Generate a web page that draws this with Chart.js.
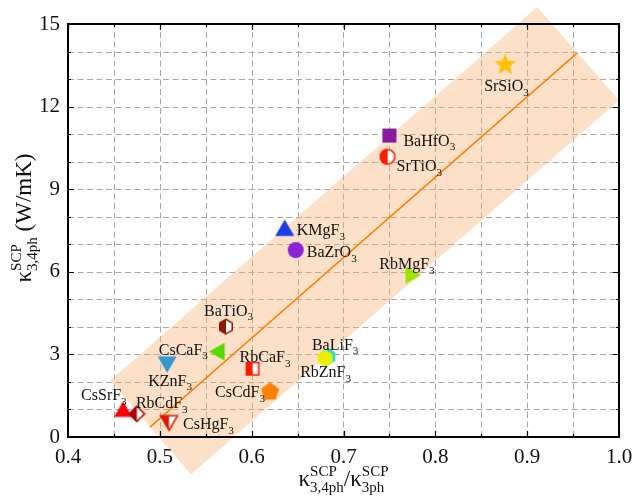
<!DOCTYPE html>
<html>
<head>
<meta charset="utf-8">
<script src="https://cdn.jsdelivr.net/npm/chart.js@4.4.0/dist/chart.umd.min.js"></script>
<style>
  html, body { margin: 0; padding: 0; background: #fff; }
</style>
</head>
<body>
<canvas id="myChart" width="634" height="497"></canvas>
<script>
// compounds and their conductivity values
const names = ['SrSiO3', 'BaHfO3', 'SrTiO3', 'KMgF3', 'BaZrO3', 'RbMgF3', 'BaTiO3', 'CsCaF3',
	'RbCaF3', 'CsCdF3', 'BaLiF3', 'RbZnF3', 'KZnF3', 'CsSrF3', 'RbCdF3', 'CsHgF3'];
const ratio = [0.876, 0.750, 0.748, 0.636, 0.648, 0.776, 0.572, 0.562,
	0.601, 0.620, 0.683, 0.680, 0.508, 0.460, 0.475, 0.510];
const kappa = [13.55, 10.95, 10.18, 7.6, 6.79, 5.88, 4.01, 3.10,
	2.48, 1.64, 2.92, 2.86, 2.63, 1.02, 0.84, 0.51];

// linear fit and its shaded band (corners in data units)
const fitX = [0.4893, 0.9543];
const fitY = [0.36, 13.94];
const bandX = [0.4457, 0.534, 1.0, 0.911];
const bandY = [2.04, -1.35, 12.23, 15.62];

const xMin = 0.4, xMax = 1.0, xStep = 0.05;
const yMin = 0, yMax = 15, yStep = 1;

// marker look for each compound
const shapes = ['star', 'square', 'circle', 'triUp', 'circle', 'triRight', 'hexagon', 'triLeft',
	'square', 'pentagon', 'hexagon', 'hexagon', 'triDown', 'triUp', 'diamond', 'triDown'];
const colors = ['#ffc000', '#8a1a9a', '#ff1a00', '#1a3fe6', '#8a22d6', '#9be600', '#8b1a00', '#55dd00',
	'#ff1a00', '#ff8000', '#1ee0d8', '#e8f000', '#3399cc', '#ff0000', '#b00000', '#e01800'];
const sizes = [23, 14, 16, 22, 16, 21, 16, 21, 14, 19, 17, 17, 22, 21, 17, 21];
const halves = [false, false, true, false, false, false, true, false,
	true, false, false, false, false, false, true, true];
// label offset from the marker: dx, dy (baseline)
const labelPos = [[-21, 27], [14, 10], [9, 14], [12, 7], [11, 7], [-34, -6], [-22, -11], [-58, 3],
	[-13, -7], [-55, 5], [-16, -7], [-25, 19], [-19, 21], [-42, -9], [-1, -6], [14, 6]];

const serif = '"Liberation Serif", "Times New Roman", serif';

function shapePath(g, shape, cx, cy, r) {
	g.beginPath();
	if (shape === 'circle') {
		g.arc(cx, cy, r, 0, Math.PI * 2);
	} else if (shape === 'square') {
		g.rect(cx - r, cy - r, 2 * r, 2 * r);
	} else if (shape === 'star') {
		for (let i = 0; i < 10; i++) {
			const a = -Math.PI / 2 + i * Math.PI / 5;
			const rr = i % 2 === 0 ? r : r * 0.42;
			g.lineTo(cx + rr * Math.cos(a), cy + r * 0.08 + rr * Math.sin(a));
		}
	} else {
		let n, start;
		if (shape === 'triUp') { n = 3; start = -Math.PI / 2; }
		else if (shape === 'triDown') { n = 3; start = Math.PI / 2; }
		else if (shape === 'triLeft') { n = 3; start = Math.PI; }
		else if (shape === 'triRight') { n = 3; start = 0; }
		else if (shape === 'hexagon') { n = 6; start = -Math.PI / 2; }
		else if (shape === 'pentagon') { n = 5; start = -Math.PI / 2; }
		else if (shape === 'diamond') { n = 4; start = -Math.PI / 2; }
		// triangles are centred on their bounding box
		const off = n === 3 ? r * 0.25 : 0;
		for (let i = 0; i < n; i++) {
			const a = start + i * 2 * Math.PI / n;
			g.lineTo(cx + r * Math.cos(a) - off * Math.cos(start), cy + r * Math.sin(a) - off * Math.sin(start));
		}
	}
	g.closePath();
}

// builds a small canvas used as the point style
function makeMarker(shape, color, size, half) {
	const s = size + 4;
	const c = document.createElement('canvas');
	c.width = s; c.height = s;
	const g = c.getContext('2d');
	const r = size / 2;
	shapePath(g, shape, s / 2, s / 2, r);
	if (half) {
		g.fillStyle = '#fff';
		g.fill();
		g.save();
		g.clip();
		g.fillStyle = color;
		g.fillRect(0, 0, s / 2, s);
		g.restore();
		shapePath(g, shape, s / 2, s / 2, r - 0.8);
		g.lineWidth = 1.6;
		g.strokeStyle = color;
		g.stroke();
	} else {
		g.fillStyle = color;
		g.fill();
	}
	return c;
}

const markers = shapes.map((s, i) => makeMarker(s, colors[i], sizes[i], halves[i]));

// text where digits are set as subscripts (chemical formulas)
function drawFormula(ctx, text, x, y, size) {
	let cx = x;
	for (const ch of text) {
		if (/[0-9]/.test(ch)) {
			ctx.font = (size * 0.7) + 'px ' + serif;
			ctx.fillText(ch, cx, y + size * 0.3);
		} else {
			ctx.font = size + 'px ' + serif;
			ctx.fillText(ch, cx, y);
		}
		cx += ctx.measureText(ch).width;
	}
}

// kappa with stacked superscript / subscript
function kappaParts(sub) {
	return [{ t: 'κ', size: 23 }, { sup: 'SCP', sub: sub, size: 15 }];
}

function richWidth(ctx, parts) {
	let w = 0;
	for (const p of parts) {
		ctx.font = p.size + 'px ' + serif;
		if (p.t) w += ctx.measureText(p.t).width;
		else w += Math.max(ctx.measureText(p.sup).width, ctx.measureText(p.sub).width);
	}
	return w;
}

function drawRich(ctx, parts, x, y) {
	let cx = x;
	for (const p of parts) {
		ctx.font = p.size + 'px ' + serif;
		if (p.t) {
			ctx.fillText(p.t, cx, y);
			cx += ctx.measureText(p.t).width;
		} else {
			ctx.fillText(p.sup, cx, y - 10);
			ctx.fillText(p.sub, cx, y + 6);
			cx += Math.max(ctx.measureText(p.sup).width, ctx.measureText(p.sub).width);
		}
	}
}

const decorations = {
	id: 'decorations',
	beforeDatasetsDraw(chart) {
		const ctx = chart.ctx;
		const xs = chart.scales.x, ys = chart.scales.y;
		const a = chart.chartArea;
		ctx.save();
		// dashed grid at every tick
		ctx.strokeStyle = '#a6a6a6';
		ctx.lineWidth = 1;
		ctx.setLineDash([6, 3.5]);
		ctx.beginPath();
		for (const t of xs.ticks) {
			const p = Math.round(xs.getPixelForValue(t.value)) + 0.5;
			ctx.moveTo(p, a.bottom); ctx.lineTo(p, a.top);
		}
		for (const t of ys.ticks) {
			const p = Math.round(ys.getPixelForValue(t.value)) + 0.5;
			ctx.moveTo(a.left, p); ctx.lineTo(a.right, p);
		}
		ctx.stroke();
		ctx.setLineDash([]);

		ctx.beginPath();
		for (let i = 0; i < bandX.length; i++) {
			ctx.lineTo(xs.getPixelForValue(bandX[i]), ys.getPixelForValue(bandY[i]));
		}
		ctx.closePath();
		ctx.fillStyle = 'rgba(250, 178, 118, 0.4)';
		ctx.fill();
		ctx.restore();
	},
	afterDatasetsDraw(chart) {
		const ctx = chart.ctx;
		const xs = chart.scales.x, ys = chart.scales.y;
		const a = chart.chartArea;
		ctx.save();
		ctx.fillStyle = '#111';
		ctx.textBaseline = 'alphabetic';
		ctx.textAlign = 'left';
		for (let i = 0; i < names.length; i++) {
			const px = xs.getPixelForValue(ratio[i]);
			const py = ys.getPixelForValue(kappa[i]);
			drawFormula(ctx, names[i], px + labelPos[i][0], py + labelPos[i][1], 16);
		}

		// frame and inward ticks on all sides
		ctx.strokeStyle = '#000';
		ctx.lineWidth = 1.2;
		ctx.beginPath();
		for (let v = xMin; v <= xMax + 1e-9; v += xStep) {
			const major = Math.round(v * 100) % 10 === 0;
			const len = major ? 6 : 3;
			const p = Math.round(xs.getPixelForValue(v)) + 0.5;
			ctx.moveTo(p, a.bottom); ctx.lineTo(p, a.bottom - len);
			ctx.moveTo(p, a.top); ctx.lineTo(p, a.top + len);
		}
		for (let v = yMin; v <= yMax; v += yStep) {
			const len = v % 3 === 0 ? 6 : 3;
			const p = Math.round(ys.getPixelForValue(v)) + 0.5;
			ctx.moveTo(a.left, p); ctx.lineTo(a.left + len, p);
			ctx.moveTo(a.right, p); ctx.lineTo(a.right - len, p);
		}
		ctx.stroke();
		ctx.lineWidth = 2;
		ctx.strokeRect(a.left, a.top, a.right - a.left, a.bottom - a.top);

		// axis titles
		ctx.fillStyle = '#111';
		const xt = kappaParts('3,4ph').concat([{ t: '/', size: 23 }], kappaParts('3ph'));
		const xw = richWidth(ctx, xt);
		drawRich(ctx, xt, (a.left + a.right) / 2 - xw / 2, 486);

		const yt = kappaParts('3,4ph').concat([{ t: ' (W/mK)', size: 23 }]);
		const yw = richWidth(ctx, yt);
		ctx.translate(31, 218);
		ctx.rotate(-Math.PI / 2);
		drawRich(ctx, yt, -yw / 2, 0);
		ctx.restore();
	}
};

const ctx = document.getElementById('myChart');

const myChart = new Chart(ctx, {
	type: 'scatter',
	data: {
		datasets: [{
			label: 'fit',
			data: fitX.map((x, i) => ({ x: x, y: fitY[i] })),
			showLine: true,
			borderColor: '#ff8000',
			borderWidth: 1.5,
			pointRadius: 0,
			order: 2
		}, {
			label: 'compounds',
			data: ratio.map((x, i) => ({ x: x, y: kappa[i] })),
			pointStyle: markers,
			pointRadius: 9,
			clip: false,
			order: 1
		}]
	},
	options: {
		responsive: false,
		animation: false,
		layout: { padding: { top: 24, right: 15, left: 0, bottom: 0 } },
		plugins: {
			legend: { display: false },
			tooltip: { enabled: false }
		},
		scales: {
			x: {
				type: 'linear',
				min: xMin,
				max: xMax,
				afterFit: (s) => { s.height = 60; s.paddingLeft = 0; s.paddingRight = 0; },
				ticks: {
					stepSize: xStep,
					padding: 8,
					autoSkip: false,
					maxRotation: 0,
					color: '#111',
					font: { family: serif, size: 21 },
					callback: (v) => {
						const r = Math.round(v * 100);
						return r % 10 === 0 ? (r / 100).toFixed(1) : '';
					}
				},
				grid: { display: false, drawTicks: false },
				border: { display: false }
			},
			y: {
				type: 'linear',
				min: yMin,
				max: yMax,
				afterFit: (s) => { s.width = 68; s.paddingTop = 0; s.paddingBottom = 0; },
				ticks: {
					stepSize: yStep,
					padding: 8,
					autoSkip: false,
					color: '#111',
					font: { family: serif, size: 21 },
					callback: (v) => (v % 3 === 0 ? v : '')
				},
				grid: { display: false, drawTicks: false },
				border: { display: false }
			}
		}
	},
	plugins: [decorations]
});
</script>
</body>
</html>
